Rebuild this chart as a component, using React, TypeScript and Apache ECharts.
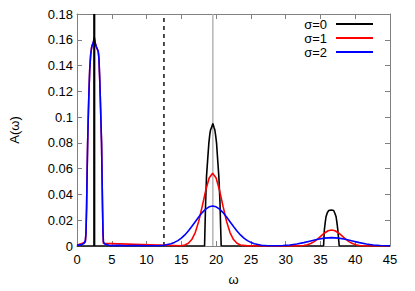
import React, { useEffect, useRef } from "react";
import * as echarts from "echarts";

const FONT = "'Liberation Sans', Arial, sans-serif";

const legendNames = ["σ=0", "σ=1", "σ=2"];

// σ=0 : sharp peaks (delta at ~2.48 drawn separately as a spike)
const sigma0: [number, number][] = [
  [0, 0], [18.34, 0], [18.42, 0.018], [18.5, 0.035], [18.62, 0.054], [18.8, 0.068],
  [18.96, 0.08], [19.1, 0.087], [19.2, 0.09], [19.35, 0.092], [19.53, 0.095],
  [19.7, 0.092], [19.82, 0.09], [19.95, 0.085], [20.06, 0.08], [20.25, 0.065],
  [20.39, 0.054], [20.55, 0.035], [20.65, 0.015], [20.73, 0],
  [35.45, 0], [35.5, 0.006], [35.56, 0.0124], [35.68, 0.018], [35.8, 0.0227],
  [36.0, 0.026], [36.2, 0.0275], [36.55, 0.028], [36.9, 0.0275], [37.1, 0.025],
  [37.25, 0.0227], [37.4, 0.017], [37.5, 0.0124], [37.6, 0.006], [37.7, 0], [45, 0],
];

const sigma0Spike: [number, number][] = [[2.48, 0], [2.48, 0.18]];

const sigma1: [number, number][] = [
  [0, 0.0005], [1.2, 0.003], [1.29, 0.01], [1.38, 0.03], [1.45, 0.055], [1.53, 0.08],
  [1.62, 0.1], [1.72, 0.12], [1.83, 0.137], [1.96, 0.148], [2.1, 0.154], [2.2, 0.156],
  [2.35, 0.158], [2.48, 0.161], [2.6, 0.158], [2.75, 0.155], [2.9, 0.153], [3.05, 0.151],
  [3.15, 0.146], [3.25, 0.132], [3.35, 0.115], [3.45, 0.095], [3.53, 0.08], [3.6, 0.055],
  [3.67, 0.03], [3.74, 0.01], [3.8, 0.002],
  [15.0, 0.0002], [15.5, 0.0008], [16, 0.0021], [16.5, 0.005], [17, 0.0104], [17.5, 0.0191],
  [18, 0.0307], [18.5, 0.043], [19, 0.0527], [19.5, 0.0564], [20, 0.0527], [20.5, 0.043],
  [21, 0.0307], [21.5, 0.0191], [22, 0.0104], [22.5, 0.005], [23, 0.0021], [23.5, 0.0008],
  [24.5, 0.0001], [31.6, 0.0001], [32.6, 0.0004], [33.1, 0.001], [33.6, 0.0019], [34.1, 0.0034],
  [34.6, 0.0054], [35.1, 0.0078], [35.6, 0.0101], [36.1, 0.0118], [36.6, 0.0124],
  [37.1, 0.0118], [37.6, 0.0101], [38.1, 0.0078], [38.6, 0.0054], [39.1, 0.0034],
  [39.6, 0.0019], [40.1, 0.001], [40.6, 0.0004], [41.6, 0.0001], [45, 0],
];

const sigma2: [number, number][] = [
  [0, 0.001], [0.2, 0.0005], [0.4, 0.0012], [0.6, 0.0008], [0.8, 0.0015], [1.0, 0.002],
  [1.1, 0.0035], [1.2, 0.004], [1.29, 0.01], [1.38, 0.03], [1.45, 0.055], [1.53, 0.08],
  [1.62, 0.1], [1.72, 0.12], [1.83, 0.137], [1.96, 0.148], [2.1, 0.154], [2.2, 0.156],
  [2.35, 0.158], [2.48, 0.162], [2.6, 0.158], [2.75, 0.155], [2.9, 0.153], [3.05, 0.151],
  [3.15, 0.146], [3.25, 0.132], [3.35, 0.115], [3.45, 0.095], [3.53, 0.08], [3.6, 0.055],
  [3.67, 0.03], [3.74, 0.01], [3.8, 0.003], [4.0, 0.0015], [4.3, 0.001], [4.6, 0.0005],
  [5, 0.0003], [6, 0.0005], [7, 0.0002], [8, 0.0004], [9, 0.0003], [10, 0.0002], [11, 0.0002],
  [11.5, 0.0002], [12.5, 0.0006], [13.5, 0.0017], [14, 0.0028], [14.5, 0.0042], [15, 0.0061],
  [15.5, 0.0086], [16, 0.0116], [16.5, 0.0151], [17, 0.0188], [17.5, 0.0225], [18, 0.0259],
  [18.5, 0.0286], [19, 0.0304], [19.5, 0.031], [20, 0.0304], [20.5, 0.0286], [21, 0.0259],
  [21.5, 0.0225], [22, 0.0188], [22.5, 0.0151], [23, 0.0116], [23.5, 0.0086], [24, 0.0061],
  [24.5, 0.0042], [25, 0.0028], [25.5, 0.0017], [26.5, 0.0006], [27.5, 0.0002],
  [28.6, 0.0002], [29.6, 0.0004], [30.6, 0.0008], [31.6, 0.0015], [32.6, 0.0026],
  [33.6, 0.0039], [34.6, 0.0052], [35.6, 0.0061], [36.6, 0.0065], [37.6, 0.0061],
  [38.6, 0.0052], [39.6, 0.0039], [40.6, 0.0026], [41.6, 0.0015], [42.6, 0.0008],
  [43.6, 0.0004], [44.6, 0.0002], [45, 0.0001],
];

const dashedLine: [number, number][] = [[12.5, 0], [12.5, 0.18]];
const grayLine: [number, number][] = [[19.53, 0], [19.53, 0.18]];

const FRAME = "#808080";

export default function App() {
  const ref = useRef<HTMLDivElement>(null);
  useEffect(() => {
    if (!ref.current) return;
    const chart = echarts.init(ref.current, undefined, { renderer: "svg" });
    const axisCommon = {
      type: "value" as const,
      axisLine: { show: true, onZero: false, lineStyle: { color: FRAME, width: 1 } },
      axisTick: { show: true, inside: true, length: 5, lineStyle: { color: FRAME, width: 1 } },
      splitLine: { show: false },
    };
    const lbl = { color: "#000", fontSize: 13, fontFamily: FONT };
    const line = (name: string, data: [number, number][], color: string, width: number, z: number, dash?: number[]) => ({
      type: "line" as const,
      name,
      data,
      showSymbol: false,
      symbol: "none",
      z,
      lineStyle: { color, width, type: dash ? dash : "solid" },
      itemStyle: { color },
      emphasis: { disabled: true },
    });
    chart.setOption({
      animation: false,
      grid: { left: 76, right: 25, top: 14, bottom: 45 },
      legend: {
        data: legendNames,
        orient: "vertical",
        align: "right",
        right: 42,
        top: 17,
        padding: 0,
        itemGap: 0,
        itemWidth: 37,
        itemHeight: 2,
        icon: "rect",
        textStyle: { ...lbl, lineHeight: 14, padding: [0, 4, 0, 0] },
      },
      xAxis: [
        {
          ...axisCommon,
          position: "bottom",
          min: 0,
          max: 45,
          interval: 5,
          axisLabel: { ...lbl, margin: 7 },
          name: "ω",
          nameLocation: "middle",
          nameGap: 27,
          nameTextStyle: { ...lbl },
        },
        {
          ...axisCommon,
          position: "top",
          min: 0,
          max: 45,
          interval: 5,
          axisLabel: { show: false },
        },
      ],
      yAxis: [
        {
          ...axisCommon,
          position: "left",
          min: 0,
          max: 0.18,
          interval: 0.02,
          axisLabel: {
            ...lbl,
            margin: 4,
            formatter: (v: number) => (v === 0 ? "0" : String(+v.toFixed(2))),
          },
          name: "A(ω)",
          nameLocation: "middle",
          nameGap: 56,
          nameRotate: 90,
          nameTextStyle: { ...lbl },
        },
        {
          ...axisCommon,
          position: "right",
          min: 0,
          max: 0.18,
          interval: 0.02,
          axisLabel: { show: false },
        },
      ],
      series: [
        line("dashed", dashedLine, "#000", 1.4, 1, [4, 4]),
        line("gray", grayLine, "#b0b0b0", 1.4, 1),
        line("σ=0", sigma0, "#000000", 1.6, 2),
        line("σ=1", sigma1, "#ff0000", 1.6, 3),
        line("σ=2", sigma2, "#0000ff", 1.6, 4),
        line("spike", sigma0Spike, "#000000", 2.2, 5),
      ],
    });
    return () => chart.dispose();
  }, []);
  return (
    <div
      ref={ref}
      style={{ position: "fixed", left: 0, top: 0, width: 415, height: 291, background: "#fff" }}
    />
  );
}
